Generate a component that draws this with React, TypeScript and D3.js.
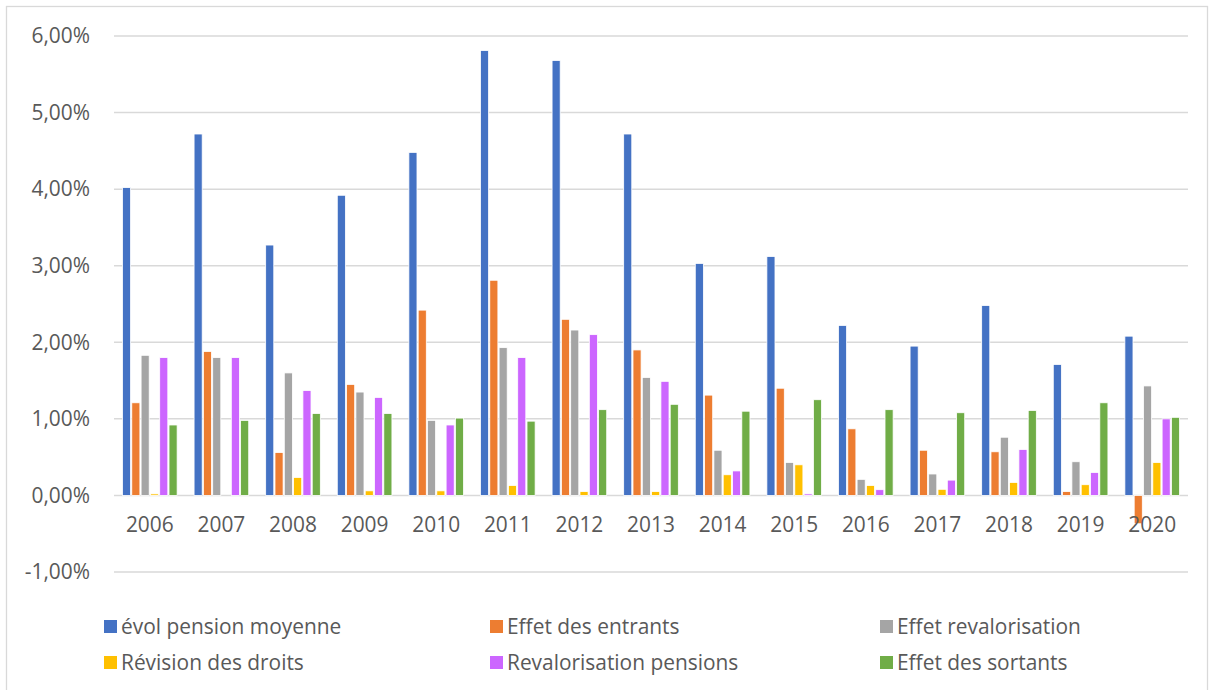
import React from "react";
import * as d3 from "d3";

const years = ["2006","2007","2008","2009","2010","2011","2012","2013","2014","2015","2016","2017","2018","2019","2020"];
const seriesNames = ["évol pension moyenne","Effet des entrants","Effet revalorisation","Révision des droits","Revalorisation pensions","Effet des sortants"];
const seriesColors = ["#4472C4","#ED7D31","#A5A5A5","#FFC000","#CC66FF","#70AD47"];
const evolPension = [4.02,4.72,3.27,3.92,4.48,5.81,5.68,4.72,3.03,3.12,2.22,1.95,2.48,1.71,2.08];
const effetEntrants = [1.21,1.88,0.56,1.45,2.42,2.81,2.30,1.90,1.31,1.40,0.87,0.59,0.57,0.05,-0.37];
const effetRevalo = [1.83,1.80,1.60,1.35,0.98,1.93,2.16,1.54,0.59,0.43,0.21,0.28,0.76,0.44,1.43];
const revisionDroits = [0.02,0.0,0.235,0.06,0.06,0.13,0.05,0.05,0.27,0.40,0.13,0.08,0.17,0.14,0.43];
const revaloPensions = [1.80,1.80,1.37,1.28,0.92,1.80,2.10,1.49,0.32,0.02,0.075,0.20,0.60,0.30,1.00];
const effetSortants = [0.92,0.98,1.07,1.07,1.01,0.97,1.12,1.19,1.10,1.25,1.12,1.08,1.11,1.21,1.02];
const yTicks = [-1,0,1,2,3,4,5,6];

const allSeries = [evolPension, effetEntrants, effetRevalo, revisionDroits, revaloPensions, effetSortants];

export default function App() {
  const W = 1213, H = 690;
  const left = 114, right = 1188, top = 36, bottom = 572;
  const y = d3.scaleLinear().domain([-1, 6]).range([bottom, top]);
  const x0 = d3.scaleBand().domain(years).range([left, right]).paddingInner(0.22).paddingOuter(0.11);
  const x1 = d3.scaleBand().domain(seriesNames.map((_, i) => String(i))).range([0, x0.bandwidth()]);
  const font = "'Open Sans', 'Liberation Sans', sans-serif";
  const textColor = "#595959";
  const fs = 20.9;
  const fmt = (v: number) => v.toFixed(2).replace(".", ",") + "%";
  const legendCols = [104, 490, 880];
  const legendRows = [627, 663];

  return (
    <svg width={W} height={H} style={{ position: "absolute", left: 0, top: 0 }}>
      <rect x={0} y={0} width={W} height={H} fill="#fff" />
      <rect x={6.5} y={6.5} width={1201} height={690} fill="none" stroke="#d9d9d9" strokeWidth={1.3} />
      {yTicks.map(t => (
        <g key={t}>
          <line x1={left} x2={right} y1={y(t)} y2={y(t)} stroke="#d9d9d9" strokeWidth={1.5} />
          <text x={90} y={y(t)} dy="0.35em" textAnchor="end" fontFamily={font} fontSize={fs} fill={textColor}>{fmt(t)}</text>
        </g>
      ))}
      {years.map((yr, i) => (
        <g key={yr} transform={`translate(${x0(yr)},0)`}>
          {allSeries.map((s, j) => {
            const v = s[i];
            const bx = x1(String(j))!;
            const y1 = y(Math.max(0, v)), y2 = y(Math.min(0, v));
            return (
              <rect key={j} x={bx + 0.6} y={y1} width={x1.bandwidth() - 1.2} height={Math.max(0, y2 - y1)}
                fill={seriesColors[j]} stroke="#fff" strokeWidth={0.8} />
            );
          })}
        </g>
      ))}
      {years.map(yr => (
        <text key={yr} x={x0(yr)! + x0.bandwidth() / 2} y={525} dy="0.35em" textAnchor="middle" fontFamily={font} fontSize={fs} fill={textColor}>{yr}</text>
      ))}
      {seriesNames.map((n, i) => {
        const cx = legendCols[i % 3], cy = legendRows[Math.floor(i / 3)];
        return (
          <g key={n}>
            <rect x={cx} y={cy - 7} width={13} height={13} fill={seriesColors[i]} />
            <text x={cx + 17} y={cy} dy="0.35em" fontFamily={font} fontSize={fs} fill={textColor}>{n}</text>
          </g>
        );
      })}
    </svg>
  );
}
